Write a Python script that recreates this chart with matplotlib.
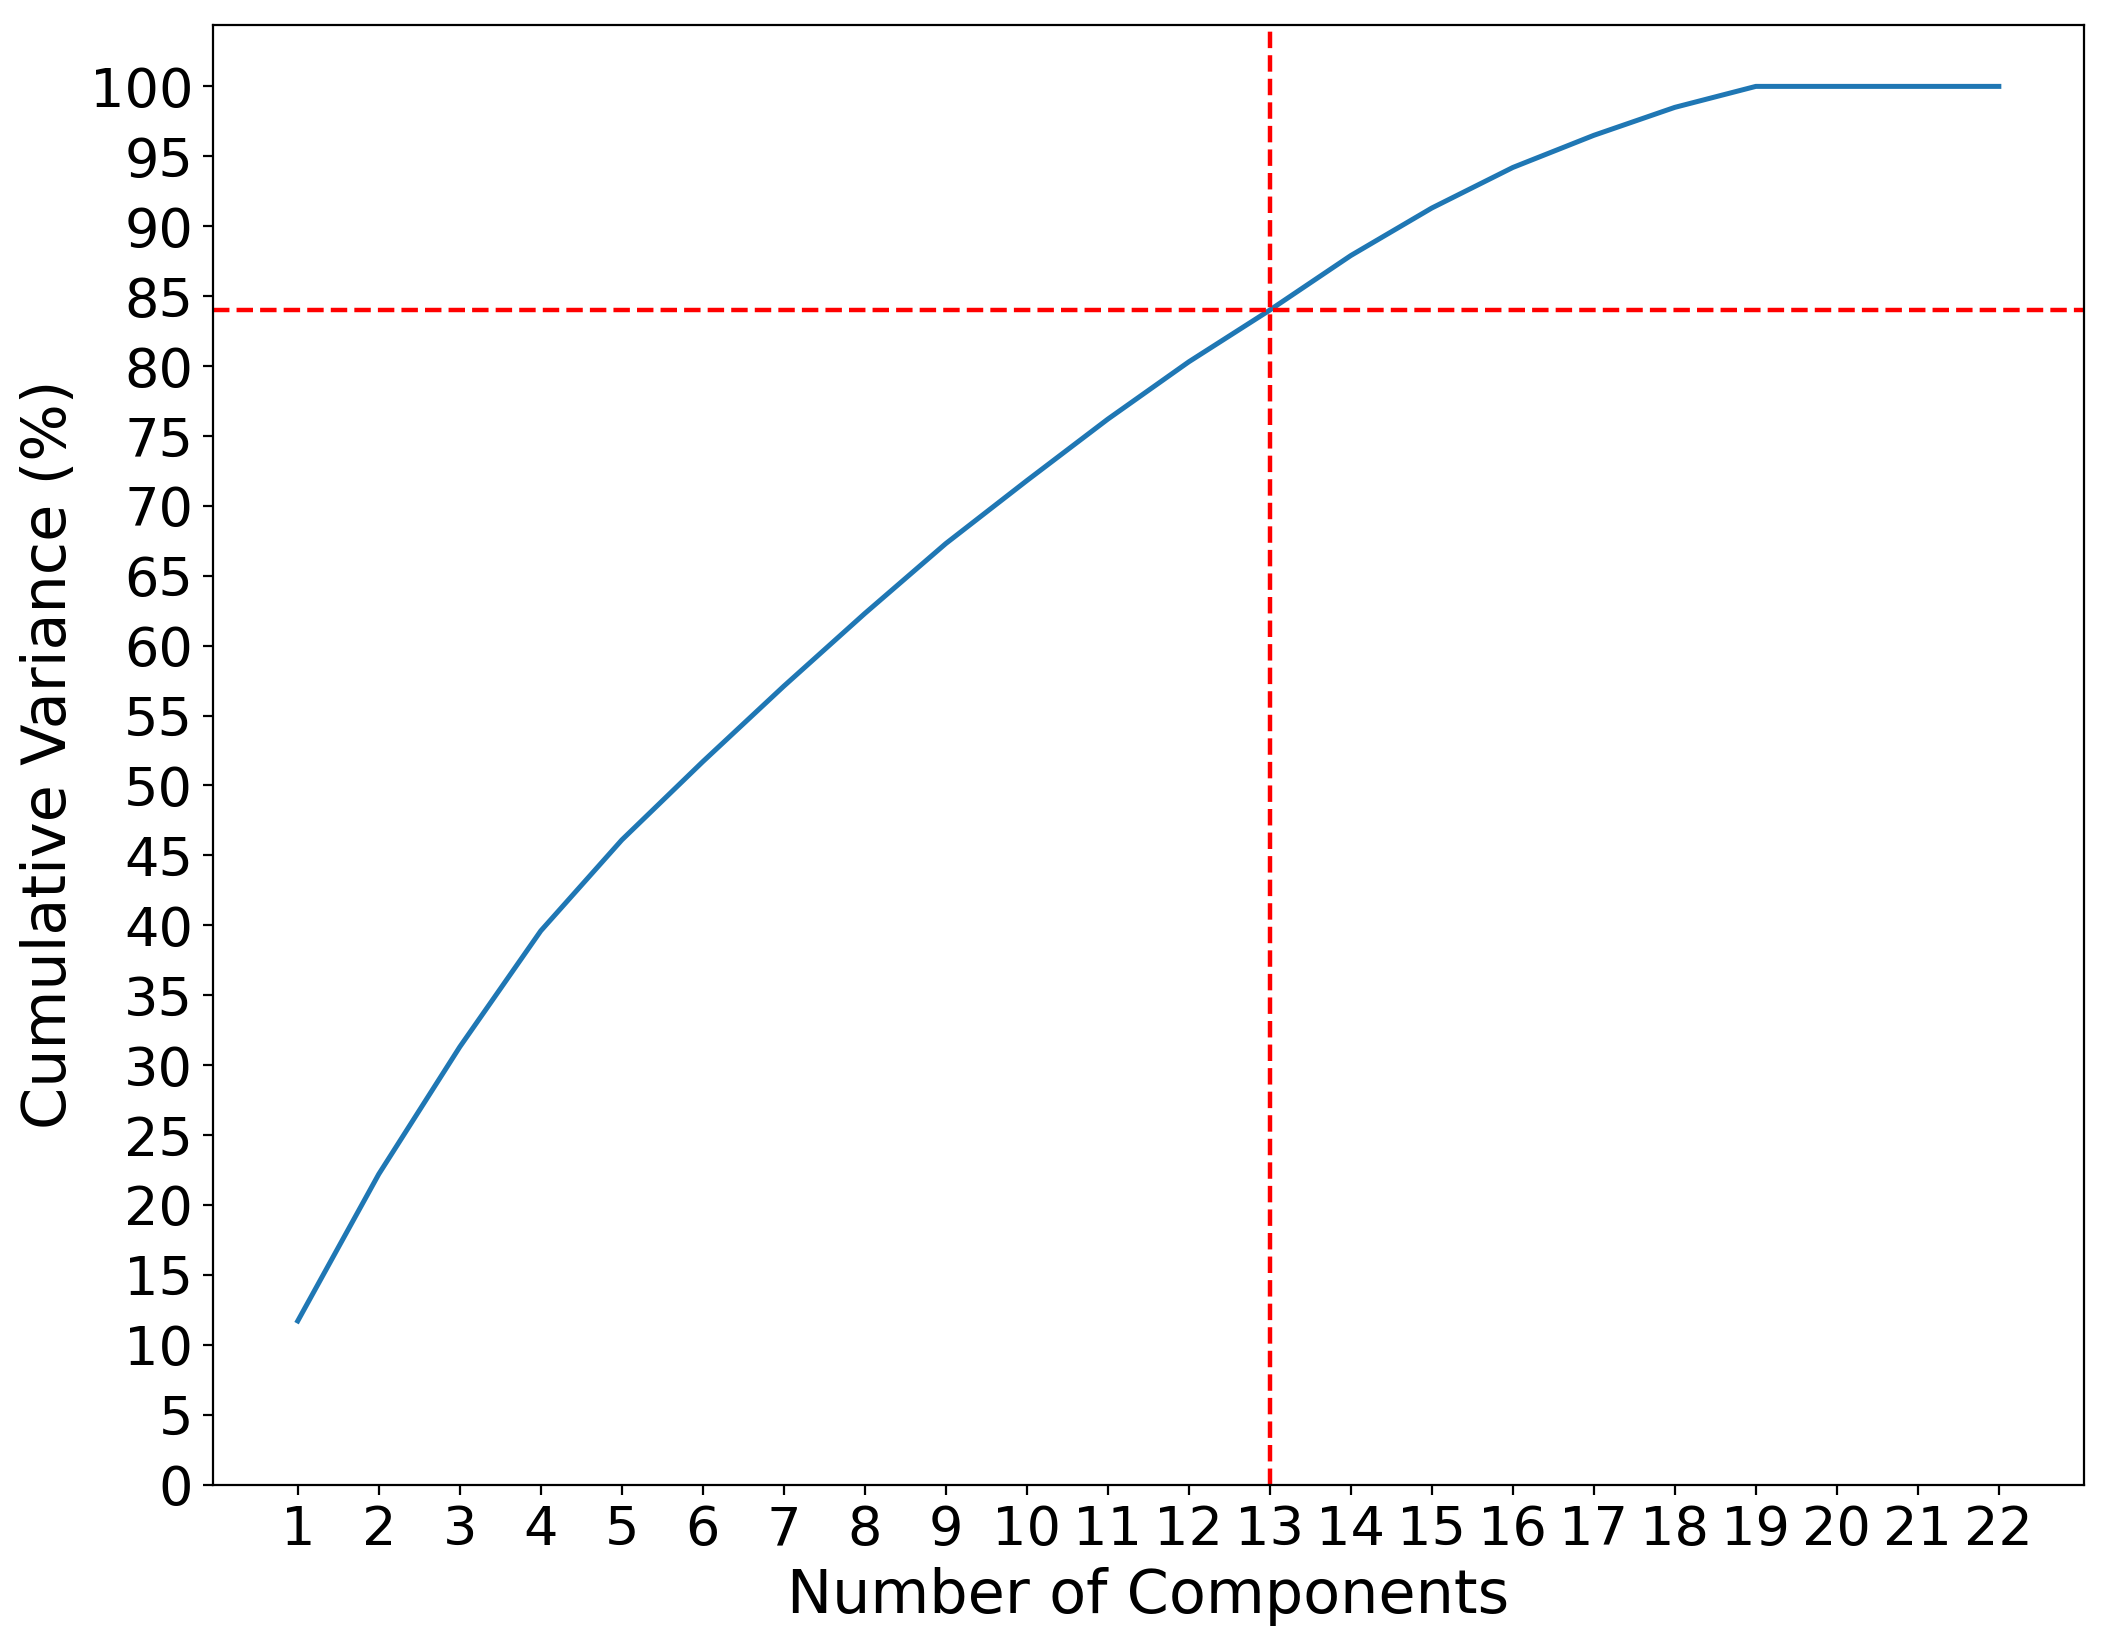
import numpy as np
import matplotlib
matplotlib.use('Agg')
import matplotlib.pyplot as plt

# cumulative explained variance
n_components = list(range(1, 23))
cum_variance = [11.7, 22.2, 31.3, 39.6, 46.1, 51.7, 57.1, 62.3, 67.3, 71.8,
                76.2, 80.3, 84.0, 87.9, 91.3, 94.2, 96.5, 98.5, 100.0, 100.0,
                100.0, 100.0]
cut_component = 13
cut_variance = 84.0

fig = plt.figure(figsize=(10.53, 8.22), dpi=200)
ax = fig.add_axes([0.101, 0.097, 0.8885, 0.888])
ax.plot(n_components, cum_variance, color='#1f77b4', linewidth=1.8)
ax.axvline(cut_component, color='red', linestyle='--', linewidth=1.6)
ax.axhline(cut_variance, color='red', linestyle='--', linewidth=1.6)
ax.set_ylim(bottom=0)
ax.set_xticks(n_components)
ax.set_yticks(np.arange(0, 101, 5))
ax.tick_params(labelsize=19.5)
ax.set_xlabel('Number of Components', fontsize=21.8)
ax.set_ylabel('Cumulative Variance (%)', fontsize=21.8)
fig.savefig('out.png', dpi=200)
